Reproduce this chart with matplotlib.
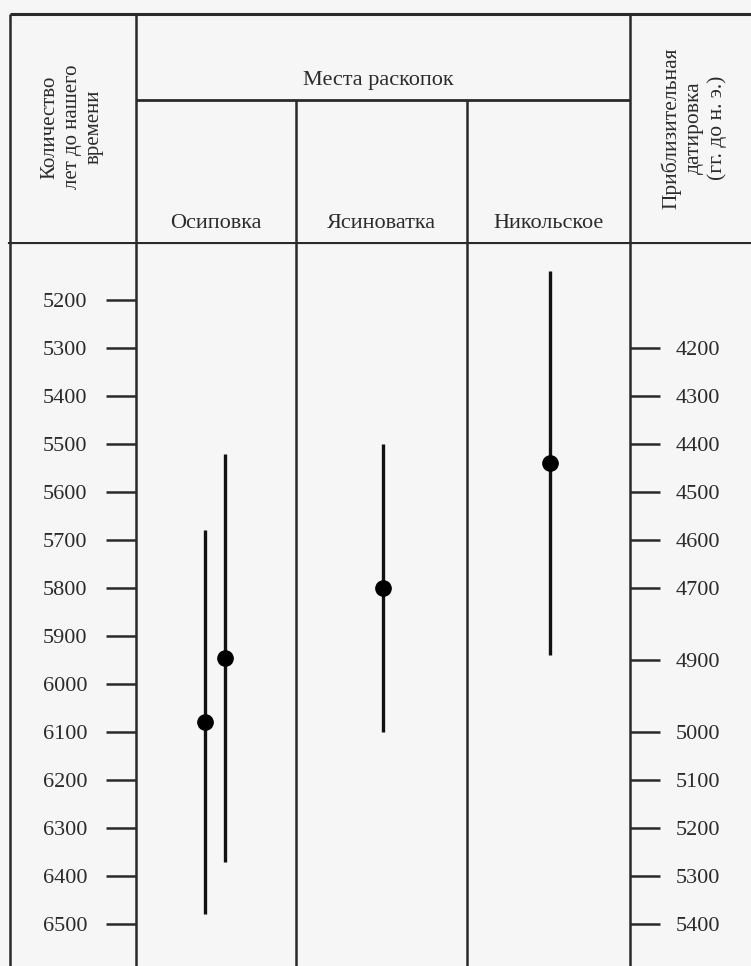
import matplotlib.pyplot as plt

# Радиоуглеродные даты (лет до нашего времени)
sites = ["Осиповка", "Ясиноватка", "Никольское"]
sample_site = [0, 0, 1, 2]
date_center = [6080, 5945, 5800, 5540]
date_low = [5680, 5520, 5500, 5140]
date_high = [6480, 6370, 6100, 5940]

left_ticks = [5200, 5300, 5400, 5500, 5600, 5700, 5800, 5900, 6000, 6100, 6200, 6300, 6400, 6500]
right_tick_bp = [5300, 5400, 5500, 5600, 5700, 5800, 5950, 6100, 6200, 6300, 6400, 6500]
right_tick_labels = ["4200", "4300", "4400", "4500", "4600", "4700",
                     "4900", "5000", "5100", "5200", "5300", "5400"]

W, H = 751, 966
head_h = 242
bg = "#f6f6f6"
line_c = "#2a2a2a"
text_c = "#2b2b2b"
plt.rcParams["font.family"] = ["Liberation Serif", "DejaVu Serif"]

fig = plt.figure(figsize=(W / 100, H / 100), dpi=100, facecolor=bg)

# границы колонок в пикселях
x_left, x_c1, x_c2, x_c3, x_c4 = 10, 136, 296, 467, 630
col_edges = [x_c1, x_c2, x_c3, x_c4]
col_centers = [(col_edges[i] + col_edges[i + 1]) / 2 for i in range(3)]
site_offset = [-11, 9, 1, 1]

# шапка таблицы
hx = fig.add_axes([0, 1 - head_h / H, 1, head_h / H])
hx.set_xlim(0, W)
hx.set_ylim(head_h, 0)
hx.axis("off")
hx.set_facecolor(bg)
hx.hlines(14, x_left, W, color=line_c, lw=2.2)
hx.hlines(100, x_c1, x_c4, color=line_c, lw=2.0)
for x in [x_left, x_c1, x_c4]:
    hx.vlines(x, 14, head_h, color=line_c, lw=1.8)
for x in [x_c2, x_c3]:
    hx.vlines(x, 100, head_h, color=line_c, lw=1.8)
hx.text(378, 80, "Места раскопок", ha="center", va="center",
        fontsize=16, color=text_c)
for c, s in zip(col_centers, sites):
    hx.text(c, 223, s, ha="center", va="center", fontsize=16, color=text_c)
hx.text(72, 127, "Количество\nлет до нашего\nвремени", rotation=90,
        ha="center", va="center", fontsize=15, linespacing=1.25, color=text_c)
hx.text(694, 128, "Приблизительная\nдатировка\n(гг. до н. э.)", rotation=90,
        ha="center", va="center", fontsize=15.5, linespacing=1.25, color=text_c)

# тело таблицы: 100 лет = 48 px, 5200 на y=300
px_per_year = 0.48
y_top = 5200 - (300 - head_h) / px_per_year
y_bot = 5200 + (H - 300) / px_per_year
ax = fig.add_axes([0, 0, 1, 1 - head_h / H])
ax.set_xlim(0, W)
ax.set_ylim(y_bot, y_top)
ax.axis("off")
ax.set_facecolor(bg)

ax.axhline(y_top, xmin=x_left / W, xmax=1, color=line_c, lw=3.0)
for x in [x_left, x_c1, x_c2, x_c3, x_c4]:
    ax.axvline(x, color=line_c, lw=1.8)

ax.hlines(left_ticks, x_c1 - 30, x_c1, color=line_c, lw=1.8)
for v in left_ticks:
    ax.text(x_c1 - 49, v, str(v), ha="right", va="center_baseline",
            fontsize=16, color=text_c)

ax.hlines(right_tick_bp, x_c4, x_c4 + 30, color=line_c, lw=1.8)
for v, lab in zip(right_tick_bp, right_tick_labels):
    ax.text(x_c4 + 46, v, lab, ha="left", va="center_baseline",
            fontsize=16, color=text_c)

for s, c, lo, hi, off in zip(sample_site, date_center, date_low, date_high, site_offset):
    x = col_centers[s] + off
    ax.vlines(x, lo, hi, color="#111111", lw=2.4)
    ax.plot(x, c, "o", color="#000000", ms=11)

fig.savefig("out.png", dpi=100, facecolor=bg)
